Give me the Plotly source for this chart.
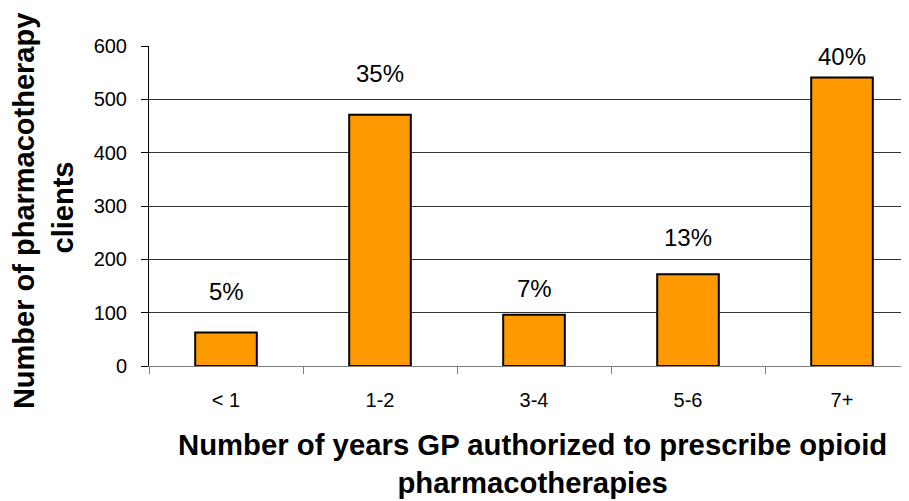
import plotly.graph_objects as go

# years GP authorized vs number of pharmacotherapy clients
years = ["< 1", "1-2", "3-4", "5-6", "7+"]
clients = [63, 471, 96, 172, 541]
shares = ["5%", "35%", "7%", "13%", "40%"]

# how far above each bar its percentage label sits (px)
label_shift = [41, 41, 26, 37, 21]

FONT = "Liberation Sans, Arial, sans-serif"
BAR = "#FF9900"

fig = go.Figure(go.Bar(
    x=years, y=clients,
    marker=dict(color=BAR, line=dict(color="black", width=2)),
    width=0.4,
    hoverinfo="x+y",
))

annotations = [
    dict(x=x, y=y, text=t, yshift=s, showarrow=False,
         xref="x", yref="y", yanchor="middle",
         font=dict(family=FONT, size=24, color="black"))
    for x, y, t, s in zip(years, clients, shares, label_shift)
]
annotations += [
    dict(text="<b>Number of pharmacotherapy</b>", textangle=-90,
         xref="paper", yref="paper", x=-0.1645, y=0.484,
         xanchor="center", yanchor="middle", showarrow=False,
         font=dict(family=FONT, size=29, color="black")),
    dict(text="<b>clients</b>", textangle=-90,
         xref="paper", yref="paper", x=-0.1138, y=0.494,
         xanchor="center", yanchor="middle", showarrow=False,
         font=dict(family=FONT, size=29, color="black")),
    dict(text="<b>Number of years GP authorized to prescribe opioid<br>pharmacotherapies</b>",
         xref="paper", yref="paper", x=0.505, y=-0.306,
         xanchor="center", yanchor="middle", showarrow=False,
         font=dict(family=FONT, size=29.3, color="black")),
]

# page body has an 8px margin, so the figure is sized to the rest of the window
fig.update_layout(
    width=901, height=493,
    paper_bgcolor="white",
    plot_bgcolor="white",
    margin=dict(t=38, b=135, l=141, r=0, pad=0),
    showlegend=False,
    font=dict(family=FONT, color="black"),
    xaxis=dict(
        type="category",
        range=[-0.5, 4.435],
        tickson="boundaries",
        ticks="outside", ticklen=7, tickcolor="#808080",
        showline=True, linecolor="#808080", linewidth=1,
        showgrid=False,
        tickfont=dict(size=20, color="black"),
        ticklabelstandoff=16,
    ),
    yaxis=dict(
        range=[0, 600], dtick=100,
        ticks="outside", ticklen=7, tickcolor="black",
        showline=True, linecolor="black", linewidth=1,
        showgrid=True, gridcolor="#333333", gridwidth=1,
        zeroline=False,
        tickfont=dict(size=20, color="black"),
        ticklabelstandoff=10,
    ),
    annotations=annotations,
)

fig.write_html("out.html")
